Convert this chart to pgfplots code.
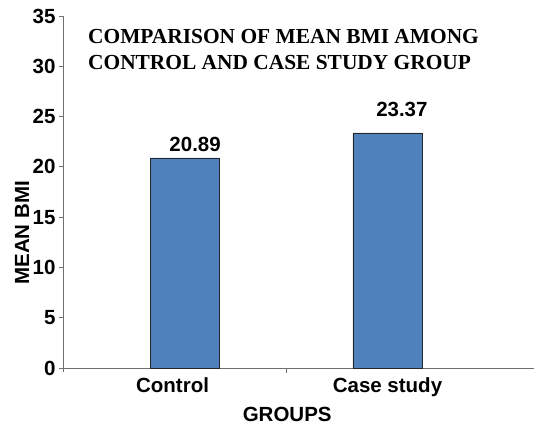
\documentclass[border=0pt]{standalone}
\usepackage{pgfplots}
\pgfplotsset{compat=1.18}
\usepackage{fontspec}
\setmainfont{Liberation Serif}
\setsansfont{Liberation Sans}
\definecolor{barblue}{HTML}{4F81BD}
\definecolor{axgray}{HTML}{707070}
\begin{document}
\begin{tikzpicture}
\path[use as bounding box] (0,0) rectangle (534pt,425pt);
\begin{axis}[
  at={(63pt,57pt)}, anchor=south west,
  scale only axis, width=471pt, height=352pt,
  xmin=-0.599, xmax=1.722, ymin=0, ymax=35,
  axis lines=left, axis line style={-, draw=axgray, line width=0.8pt},
  ytick={0,5,...,35},
  xtick={0,1},
  xticklabels={\hspace*{-24pt}Control, Case study},
  major x tick style={draw=none},
  y tick style={draw=axgray, line width=0.8pt},
  tick align=outside, major tick length=4pt,
  /pgf/number format/assume math mode=true,
  ticklabel style={font=\fontsize{20.5}{24}\selectfont\sffamily\bfseries},
  yticklabel style={xshift=0pt},
  xticklabel style={yshift=-2pt},
  xlabel={GROUPS},
  ylabel={MEAN BMI},
  label style={font=\fontsize{20.5}{24}\selectfont\sffamily\bfseries},
  xlabel style={at={(axis description cs:0.476,-0.153)}, anchor=base, inner sep=0pt},
  ylabel style={at={(axis description cs:-0.087,0.384)}, anchor=center},
  clip=false,
]
\addplot[ybar, bar width=69pt, fill=barblue, draw=black!85, line width=0.6pt]
  coordinates {(0,20.89) (1,23.37)};
\draw[axgray, line width=0.8pt] (axis cs:0.5,0) -- ([yshift=-5pt]axis cs:0.5,0);
\draw[axgray, line width=0.8pt] (axis cs:-0.599,0) -- ([yshift=-4pt]axis cs:-0.599,0);
\node[anchor=base, font=\fontsize{20.5}{24}\selectfont\sffamily\bfseries] at (axis cs:0.052,21.48) {20.89};
\node[anchor=base, font=\fontsize{20.5}{24}\selectfont\sffamily\bfseries] at (axis cs:1.071,24.96) {23.37};
\node[anchor=base west, inner sep=0pt, font=\fontsize{21.4}{25}\selectfont\bfseries] at (axis description cs:0.053,0.923) {COMPARISON OF MEAN BMI AMONG};
\node[anchor=base west, inner sep=0pt, font=\fontsize{21.4}{25}\selectfont\bfseries] at (axis description cs:0.053,0.847) {CONTROL AND CASE STUDY GROUP};
\end{axis}
\end{tikzpicture}
\end{document}
